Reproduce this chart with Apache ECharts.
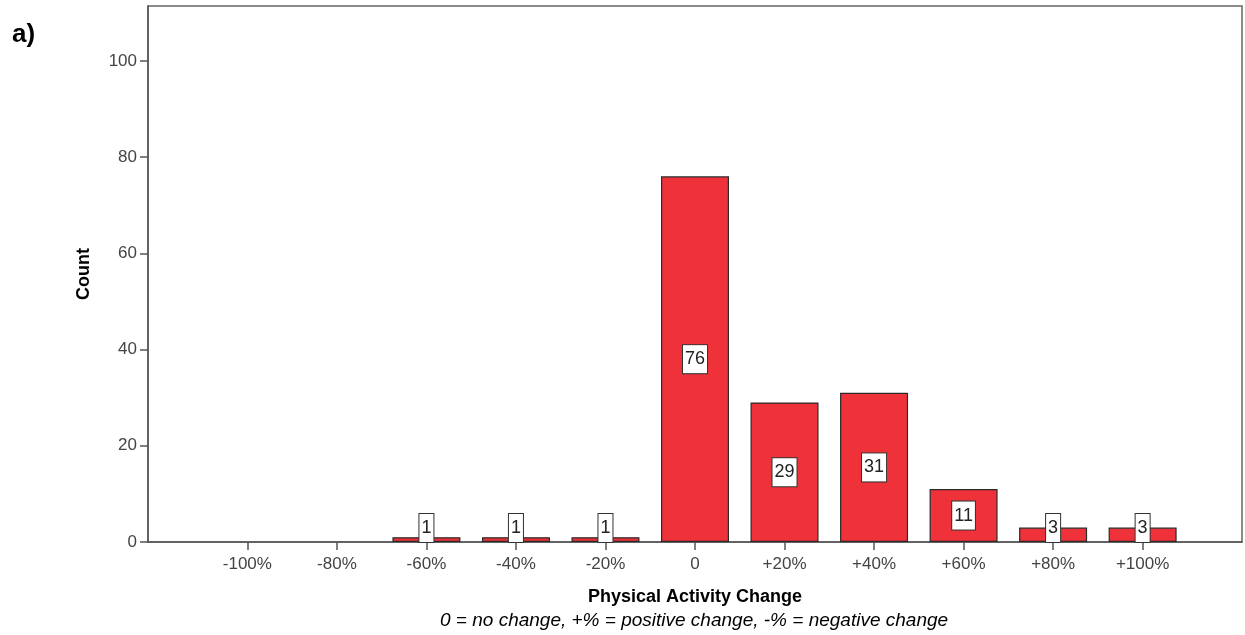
<!DOCTYPE html>
<html>
<head>
<meta charset="utf-8">
<script src="https://cdn.jsdelivr.net/npm/echarts@6/dist/echarts.min.js"></script>
<style>
html,body{margin:0;padding:0;background:#fff;}
#chart{width:1245px;height:635px;}
</style>
</head>
<body>
<div id="chart"></div>
<script>
// Data
const changeValues = [-100, -80, -60, -40, -20, 0, 20, 40, 60, 80, 100];
const changeLabels = ['-100%', '-80%', '-60%', '-40%', '-20%', '0', '+20%', '+40%', '+60%', '+80%', '+100%'];
const counts = [0, 0, 1, 1, 1, 76, 29, 31, 11, 3, 3];
const yTicks = [0, 20, 40, 60, 80, 100];

const labelMap = {};
changeValues.forEach((v, i) => { labelMap[v] = changeLabels[i]; });

const seriesData = changeValues.map((v, i) => {
  const c = counts[i];
  const item = { value: [v, c] };
  if (c === 0) {
    item.label = { show: false };
    item.itemStyle = { opacity: 0 };
  } else if (c < 6) {
    item.label = { position: 'insideBottom', distance: 0 };
  }
  return item;
});

const chart = echarts.init(document.getElementById('chart'), null, { renderer: 'canvas' });
const font = 'Liberation Sans, Arial, sans-serif';
chart.setOption({
  animation: false,
  backgroundColor: '#ffffff',
  title: {
    text: 'a)', left: 7, top: 17,
    textStyle: { fontFamily: font, fontSize: 26, fontWeight: 'bold', color: '#000' }
  },
  grid: {
    left: 148, right: 3, top: 6, bottom: 93,
    show: true, borderColor: '#666', borderWidth: 1.5, backgroundColor: 'transparent'
  },
  xAxis: {
    type: 'value', min: -122.2, max: 122.2,
    splitLine: { show: false },
    axisLine: { show: true, onZero: false, lineStyle: { color: '#555', width: 1.5 } },
    axisTick: { show: true, length: 8, lineStyle: { color: '#555', width: 1.5 }, customValues: changeValues },
    axisLabel: {
      customValues: changeValues,
      formatter: v => labelMap[v] !== undefined ? labelMap[v] : '',
      fontFamily: font, fontSize: 17, color: '#444', margin: 14
    },
    name: 'Physical Activity Change',
    nameLocation: 'middle', nameGap: 46,
    nameTextStyle: { fontFamily: font, fontSize: 18, fontWeight: 'bold', color: '#000' }
  },
  yAxis: {
    type: 'value', min: 0, max: 111.4,
    splitLine: { show: false },
    axisLine: { show: true, onZero: false, lineStyle: { color: '#555', width: 1.5 } },
    axisTick: { show: true, length: 8, lineStyle: { color: '#555', width: 1.5 }, customValues: yTicks },
    axisLabel: { customValues: yTicks, fontFamily: font, fontSize: 17, color: '#444', margin: 11 },
    name: 'Count', nameLocation: 'middle', nameGap: 55,
    nameTextStyle: { fontFamily: font, fontSize: 18, fontWeight: 'bold', color: '#000' }
  },
  graphic: [{
    type: 'text', left: 440, top: 611,
    style: {
      text: '0 = no change, +% = positive change, -% = negative change',
      fontFamily: font, fontSize: 19, fontStyle: 'italic', fill: '#000'
    }
  }],
  series: [{
    type: 'bar',
    data: seriesData,
    barWidth: 68,
    itemStyle: { color: '#EF323A', borderColor: '#2a2a2a', borderWidth: 1.2 },
    label: {
      show: true, position: 'inside',
      formatter: p => String(p.value[1]),
      fontFamily: font, fontSize: 18, color: '#222',
      backgroundColor: '#fff', borderColor: '#333', borderWidth: 1,
      padding: [5, 2, 4, 2], lineHeight: 19
    }
  }]
});
</script>
</body>
</html>
